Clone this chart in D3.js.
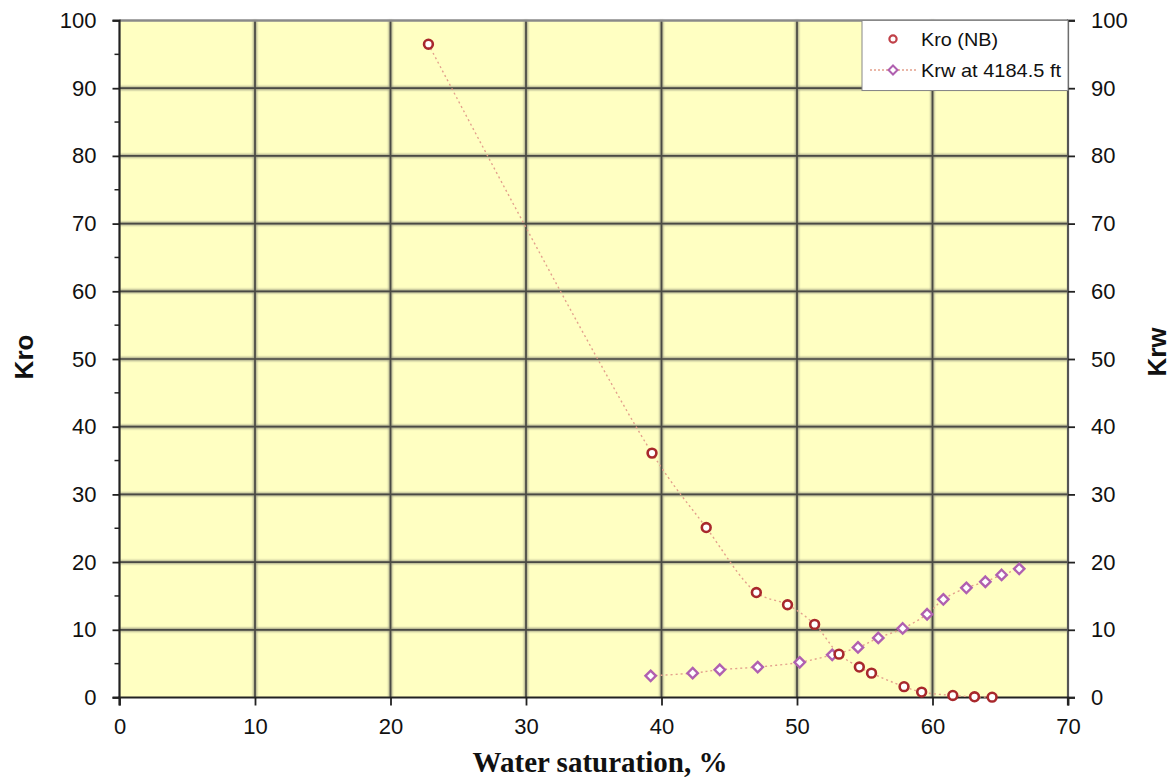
<!DOCTYPE html>
<html>
<head>
<meta charset="utf-8">
<script src="https://cdn.jsdelivr.net/npm/d3@7"></script>
<style>
  html, body { margin: 0; padding: 0; background: #ffffff; }
  svg { display: block; }
</style>
</head>
<body>
<svg id="chart" width="1173" height="779"></svg>
<script>
// Relative permeability vs water saturation
const kroSw = [22.8, 39.3, 43.3, 47.0, 49.3, 51.3, 53.1, 54.6, 55.5, 57.9, 59.2, 61.5, 63.1, 64.4];
const kroVal = [96.5, 36.1, 25.1, 15.5, 13.7, 10.8, 6.4, 4.5, 3.6, 1.6, 0.8, 0.3, 0.1, 0.05];

const krwSw = [39.2, 42.3, 44.3, 47.1, 50.2, 52.6, 54.5, 56.0, 57.8, 59.6, 60.8, 62.5, 63.9, 65.1, 66.4];
const krwVal = [3.2, 3.6, 4.1, 4.5, 5.2, 6.3, 7.4, 8.8, 10.2, 12.3, 14.5, 16.2, 17.1, 18.1, 19.0];

const xTicks = [0, 10, 20, 30, 40, 50, 60, 70];
const yTicks = [0, 10, 20, 30, 40, 50, 60, 70, 80, 90, 100];
const yMinorTicks = [5, 15, 25, 35, 45, 55, 65, 75, 85, 95];

const seriesNames = ["Kro (NB)", "Krw at 4184.5 ft"];

const svg = d3.select("#chart");
const plotL = 119.5, plotR = 1068, plotT = 20.5, plotB = 697.5;

const x = d3.scaleLinear().domain([0, 70]).range([plotL, plotR]);
const yL = d3.scaleLinear().domain([0, 100]).range([plotB, plotT]);
const yR = d3.scaleLinear().domain([0, 100]).range([plotB, plotT]);

// soft shadow for grid lines
const defs = svg.append("defs");
defs.append("filter").attr("id", "soft").attr("x", "-5%").attr("y", "-5%").attr("width", "110%").attr("height", "110%")
  .append("feGaussianBlur").attr("stdDeviation", 0.9);

// plot background
svg.append("rect")
  .attr("x", plotL).attr("y", plotT)
  .attr("width", plotR - plotL).attr("height", plotB - plotT)
  .attr("fill", "#ffffc2");

// grid
const grid = svg.append("g");
const gridV = xTicks.filter(d => d > 0 && d < 70);
const gridH = yTicks.filter(d => d > 0 && d < 100);
[["#9a9a80", 3.4, "url(#soft)"], ["#4a4a44", 1.7, null]].forEach(([col, w, f]) => {
  const g = grid.append("g").attr("stroke", col).attr("stroke-width", w);
  if (f) g.attr("filter", f);
  g.selectAll("line.v").data(gridV).join("line").attr("class", "v")
    .attr("x1", d => x(d)).attr("x2", d => x(d)).attr("y1", plotT).attr("y2", plotB);
  g.selectAll("line.h").data(gridH).join("line").attr("class", "h")
    .attr("x1", plotL).attr("x2", plotR).attr("y1", d => yL(d)).attr("y2", d => yL(d));
});
// top border
grid.append("line").attr("x1", plotL).attr("x2", plotR).attr("y1", plotT).attr("y2", plotT)
  .attr("stroke", "#8a8a8a").attr("stroke-width", 2.5);

// axes
const tickFont = "'Liberation Sans', Arial, sans-serif";
const axL = svg.append("g").attr("transform", `translate(${plotL},0)`)
  .call(d3.axisLeft(yL).tickValues(yTicks).tickSize(7).tickPadding(16).tickFormat(d3.format("d")));
axL.append("g").selectAll("line").data(yMinorTicks).join("line")
  .attr("x1", -5).attr("x2", 0).attr("y1", d => yL(d)).attr("y2", d => yL(d))
  .attr("stroke", "#222").attr("stroke-width", 1.5);

const axR = svg.append("g").attr("transform", `translate(${plotR},0)`)
  .call(d3.axisRight(yR).tickValues(yTicks).tickSize(7).tickPadding(16).tickFormat(d3.format("d")));

const axB = svg.append("g").attr("transform", `translate(0,${plotB})`)
  .call(d3.axisBottom(x).tickValues(xTicks).tickSize(8).tickPadding(13).tickFormat(d3.format("d")));

[axL, axR, axB].forEach(a => {
  a.select(".domain").attr("stroke", "#222").attr("stroke-width", 2.2);
  a.selectAll(".tick line").attr("stroke", "#222").attr("stroke-width", 1.8);
  a.selectAll("text").attr("font-family", tickFont).attr("font-size", 22).attr("fill", "#111");
});
axR.select(".domain").attr("stroke", "#555");
axL.select(".domain").attr("d", `M-7,${plotB}H0V${plotT}H-7`);
axR.select(".domain").attr("d", `M7,${plotT}H0V${plotB}H7`);
axB.select(".domain").attr("d", `M${plotL},8V0H${plotR}V8`);

// lines and markers
const kro = kroSw.map((s, i) => [s, kroVal[i]]);
const krw = krwSw.map((s, i) => [s, krwVal[i]]);

const lineL = d3.line().x(d => x(d[0])).y(d => yL(d[1])).curve(d3.curveCatmullRom.alpha(0.5));
const lineR = d3.line().x(d => x(d[0])).y(d => yR(d[1])).curve(d3.curveCatmullRom.alpha(0.5));

svg.append("path").datum(kro).attr("d", lineL)
  .attr("fill", "none").attr("stroke", "#e3a08c").attr("stroke-width", 1.4).attr("stroke-dasharray", "2,3");
svg.append("path").datum(krw).attr("d", lineR)
  .attr("fill", "none").attr("stroke", "#e3a08c").attr("stroke-width", 1.4).attr("stroke-dasharray", "2,3");

const diamond = s => `M0,${-s}L${s},0L0,${s}L${-s},0Z`;

svg.append("g").selectAll("path").data(krw).join("path")
  .attr("transform", d => `translate(${x(d[0])},${yR(d[1])})`)
  .attr("d", diamond(5.2))
  .attr("fill", "#ffffff").attr("stroke", "#b060b0").attr("stroke-width", 2.4);

svg.append("g").selectAll("circle").data(kro).join("circle")
  .attr("cx", d => x(d[0])).attr("cy", d => yL(d[1])).attr("r", 4.4)
  .attr("fill", "#ffffff").attr("stroke", "#a8282c").attr("stroke-width", 2.6);

// legend
const lg = svg.append("g");
lg.append("rect").attr("x", 862).attr("y", plotT).attr("width", plotR - 862).attr("height", 70)
  .attr("fill", "#ffffff").attr("stroke", "#888").attr("stroke-width", 1);
lg.append("circle").attr("cx", 893).attr("cy", 39).attr("r", 3.6)
  .attr("fill", "#fff").attr("stroke", "#c04048").attr("stroke-width", 2.2);
lg.append("line").attr("x1", 870).attr("x2", 918).attr("y1", 70).attr("y2", 70)
  .attr("stroke", "#e3a08c").attr("stroke-width", 1.3).attr("stroke-dasharray", "2,2");
lg.append("path").attr("transform", "translate(893,70)").attr("d", diamond(4.5))
  .attr("fill", "#fff").attr("stroke", "#b060b0").attr("stroke-width", 2);
lg.selectAll("text").data(seriesNames).join("text")
  .attr("x", 921).attr("y", (d, i) => 46 + i * 31)
  .attr("font-family", tickFont).attr("font-size", 19).attr("fill", "#111")
  .attr("textLength", (d, i) => i === 0 ? 77 : 140).attr("lengthAdjust", "spacingAndGlyphs")
  .text(d => d);

// axis titles
svg.append("text").attr("transform", "translate(33,357) rotate(-90)")
  .attr("text-anchor", "middle").attr("font-family", tickFont).attr("font-weight", "bold")
  .attr("font-size", 26).attr("fill", "#111").text("Kro");
svg.append("text").attr("transform", "translate(1166,352) rotate(-90)")
  .attr("text-anchor", "middle").attr("font-family", tickFont).attr("font-weight", "bold")
  .attr("font-size", 26).attr("fill", "#111").text("Krw");
svg.append("text").attr("x", 600).attr("y", 772)
  .attr("text-anchor", "middle").attr("font-family", "'Liberation Serif', 'Times New Roman', serif")
  .attr("font-weight", "bold").attr("font-size", 29).attr("fill", "#111").text("Water saturation, %");
</script>
</body>
</html>
